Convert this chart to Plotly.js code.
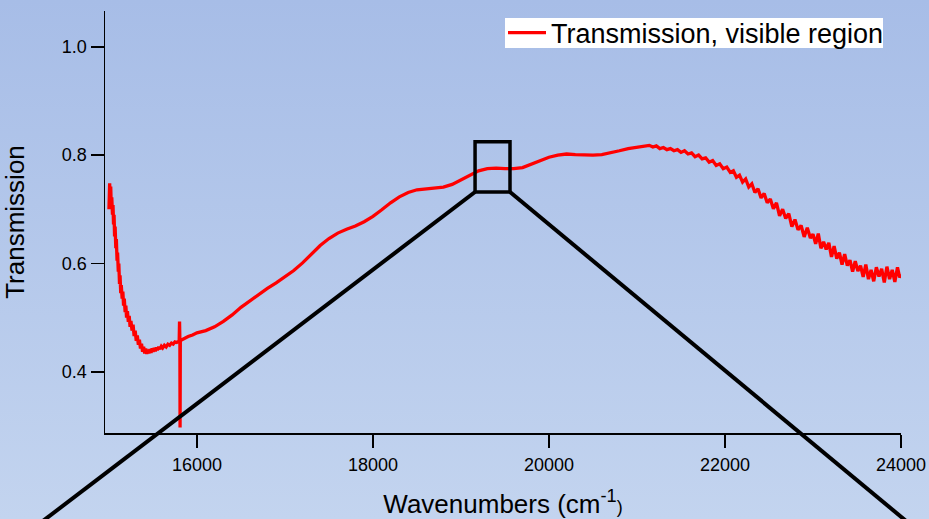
<!DOCTYPE html>
<html>
<head>
<meta charset="utf-8">
<script src="https://cdn.plot.ly/plotly-3.0.1.min.js"></script>
<style>
  html, body { margin: 0; padding: 0; }
  body { width: 929px; height: 519px; background: linear-gradient(to bottom, #a7bde7 0%, #c3d4ef 100%); overflow: hidden; }
  #chart { width: 929px; height: 519px; }
</style>
</head>
<body>
<div id="chart"></div>
<script>
// Wavenumbers (cm^-1)
const wavenumbers = [
  15000,15008,15014,15020,15026,15032,15040,15046,15052,15058,15064,15070,15078,15084,15092,15098,
  15106,15112,15120,15126,15134,15140,15150,15158,15166,15174,15184,15192,15200,15210,15220,15230,
  15240,15250,15262,15274,15286,15298,15310,15322,15334,15346,15358,15370,15382,15394,15406,15418,
  15430,15442,15454,15466,15478,15490,15502,15514,15526,15538,15550,15565,15580,15595,15610,15630,
  15650,15670,15690,15710,15730,15750,15770,15790,15798,15802,15806,15808,15811,15830,15860,15900,
  15950,16000,16100,16200,16300,16400,16500,16600,16700,16800,16900,17000,17100,17200,17300,17400,
  17500,17600,17700,17800,17900,18000,18100,18200,18300,18400,18500,18600,18700,18800,18900,19000,
  19100,19200,19300,19400,19500,19600,19700,19800,19900,20000,20100,20200,20300,20400,20500,20600,
  20700,20800,20900,21000,21100,21140,21180,21220,21260,21300,21340,21380,21420,21460,21500,21540,
  21580,21620,21660,21700,21740,21780,21820,21860,21900,21940,21980,22020,22060,22095,22130,22165,
  22200,22235,22270,22305,22340,22375,22410,22445,22480,22515,22550,22585,22620,22655,22690,22725,
  22760,22795,22830,22865,22900,22935,22970,23000,23030,23060,23090,23120,23150,23180,23210,23240,
  23270,23300,23330,23360,23390,23420,23450,23480,23510,23540,23570,23600,23630,23660,23690,23720,
  23750,23780,23810,23840,23870,23900,23930,23960,23985,24000
];
// Transmission values
const transmission = [
  0.700,0.748,0.715,0.742,0.705,0.722,0.690,0.708,0.672,0.690,0.650,0.668,0.628,0.645,0.605,0.620,
  0.585,0.600,0.562,0.578,0.545,0.560,0.535,0.548,0.522,0.535,0.510,0.522,0.500,0.512,0.492,0.503,
  0.483,0.494,0.476,0.487,0.466,0.476,0.457,0.467,0.450,0.459,0.443,0.452,0.437,0.446,0.434,0.443,
  0.433,0.441,0.434,0.442,0.435,0.443,0.437,0.444,0.438,0.445,0.440,0.446,0.442,0.447,0.444,0.449,
  0.446,0.451,0.449,0.453,0.451,0.455,0.454,0.457,0.457,0.493,0.458,0.297,0.460,0.459,0.462,0.465,
  0.468,0.472,0.476,0.483,0.493,0.505,0.519,0.531,0.543,0.554,0.564,0.575,0.587,0.601,0.617,0.633,
  0.646,0.656,0.663,0.669,0.677,0.687,0.699,0.712,0.723,0.731,0.736,0.738,0.739,0.741,0.746,0.754,
  0.763,0.771,0.775,0.776,0.775,0.775,0.777,0.783,0.790,0.796,0.800,0.802,0.801,0.800,0.800,0.801,
  0.804,0.808,0.812,0.814,0.816,0.818,0.815,0.817,0.812,0.814,0.810,0.812,0.808,0.810,0.805,0.808,
  0.802,0.804,0.797,0.800,0.793,0.795,0.787,0.790,0.781,0.784,0.775,0.778,0.768,0.771,0.759,0.763,
  0.750,0.756,0.741,0.747,0.731,0.738,0.721,0.729,0.712,0.719,0.701,0.712,0.688,0.700,0.683,0.692,
  0.668,0.681,0.662,0.670,0.649,0.666,0.647,0.654,0.636,0.655,0.628,0.640,0.626,0.638,0.612,0.632,
  0.609,0.620,0.598,0.617,0.596,0.606,0.585,0.604,0.586,0.596,0.575,0.598,0.571,0.588,0.567,0.593,
  0.576,0.590,0.565,0.594,0.571,0.588,0.566,0.593,0.574,0.580
];
const xTickVals = [16000, 18000, 20000, 22000, 24000];
const yTickVals = [0.4, 0.6, 0.8, 1.0];
const seriesName = 'Transmission, visible region';

const FONT = 'Liberation Sans, Arial, Helvetica, sans-serif';

const trace = {
  x: wavenumbers,
  y: transmission,
  type: 'scatter',
  mode: 'lines',
  name: seriesName,
  line: { color: '#ff0000', width: 3.3 },
  showlegend: true
};

const layout = {
  width: 929,
  height: 519,
  margin: { l: 105, r: 28, t: 11, b: 86, pad: 0, autoexpand: false },
  paper_bgcolor: 'rgba(0,0,0,0)',
  plot_bgcolor: 'rgba(0,0,0,0)',
  font: { family: FONT, color: '#000' },
  showlegend: true,
  legend: {
    x: 0.5, xanchor: 'left',
    y: 0.9479, yanchor: 'middle',
    bgcolor: 'rgba(0,0,0,0)',
    borderwidth: 0,
    font: { family: FONT, size: 27, color: '#000' },
    itemwidth: 38,
    tracegroupgap: 0
  },
  xaxis: {
    range: [14955, 24000],
    tickvals: xTickVals,
    tickformat: 'd',
    showline: true, linecolor: '#000', linewidth: 1.5,
    ticks: 'outside', ticklen: 13, tickwidth: 1.5, tickcolor: '#000',
    ticklabelstandoff: 2,
    showgrid: false, zeroline: false,
    tickfont: { family: FONT, size: 18, color: '#000' },
    title: { text: 'Wavenumbers (cm<sup>-1</sup><span style="font-size:18px">)</span>', font: { family: FONT, size: 26, color: '#000' }, standoff: 21 }
  },
  yaxis: {
    range: [0.287, 1.066],
    tickvals: yTickVals,
    tickformat: '.1f',
    showline: true, linecolor: '#000', linewidth: 1.5,
    ticks: 'outside', ticklen: 13, tickwidth: 1.5, tickcolor: '#000',
    showgrid: false, zeroline: false,
    tickfont: { family: FONT, size: 18, color: '#000' },
    title: { text: 'Transmission', font: { family: FONT, size: 26, color: '#000' }, standoff: 32 }
  },
  shapes: [
    { type: 'rect', xref: 'paper', yref: 'paper', x0: 0.5025, x1: 0.9774, y0: 0.9123, y1: 0.9834,
      line: { width: 0 }, fillcolor: '#ffffff', layer: 'above' },
    { type: 'rect', xref: 'x', yref: 'y', x0: 19160, x1: 19557, y0: 0.7317, y1: 0.8245,
      line: { color: '#000', width: 3.5 }, fillcolor: 'rgba(0,0,0,0)', layer: 'above' },
    { type: 'line', xref: 'paper', yref: 'paper', x0: 0.4648, y0: 0.5711, x1: -0.1094, y1: -0.2536,
      line: { color: '#000', width: 4 }, layer: 'above' },
    { type: 'line', xref: 'paper', yref: 'paper', x0: 0.5088, y0: 0.5711, x1: 1.0352, y1: -0.2536,
      line: { color: '#000', width: 4 }, layer: 'above' }
  ]
};

Plotly.newPlot('chart', [trace], layout, { displayModeBar: false, staticPlot: true });
</script>
</body>
</html>
